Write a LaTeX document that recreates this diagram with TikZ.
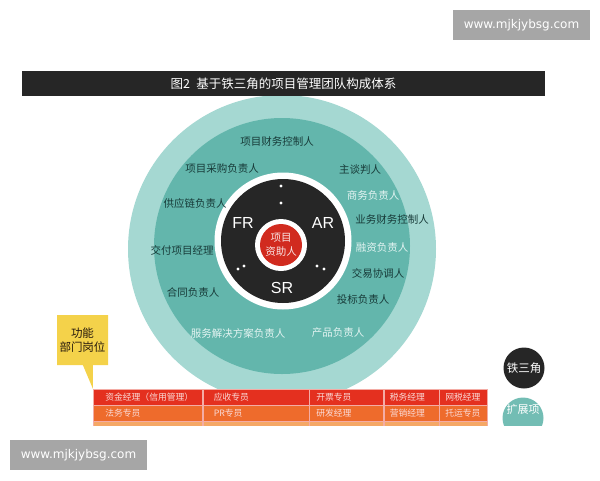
\documentclass[tikz,border=0pt]{standalone}
\usepackage{fontspec}
\setmainfont{Noto Sans CJK SC}
\newfontfamily\latinfont{Liberation Sans}
\newfontfamily\wmfont{DejaVu Sans}
\usetikzlibrary{positioning,shapes.callouts}

\definecolor{paleteal}{HTML}{A5D8D2}
\definecolor{ringteal}{HTML}{63B6AC}
\definecolor{darkteal}{HTML}{173A38}
\definecolor{lightteal}{HTML}{E2F3F1}
\definecolor{coal}{HTML}{262626}
\definecolor{sponsorred}{HTML}{D12B1F}
\definecolor{rowred}{HTML}{E4301F}
\definecolor{roworange}{HTML}{EE6B2C}
\definecolor{rowpeach}{HTML}{F5A866}
\definecolor{callyellow}{HTML}{F4D24A}
\definecolor{wmgray}{HTML}{A6A6A6}

\begin{document}
\begin{tikzpicture}[x=1pt,y=-1pt,
	disc/.style={
	  circle,
	  inner sep=0pt
	},
	role/.style={
	  font=\fontsize{10.5}{12}\selectfont,
	  text=darkteal,
	  inner sep=1pt
	},
	rolelight/.style={
	  role,
	  text=lightteal
	},
	corner/.style={
	  font=\latinfont\fontsize{16}{18}\selectfont,
	  text=white,
	  inner sep=0pt
	},
	cell/.style={
	  minimum height=15.5pt,
	  inner xsep=6pt,
	  inner ysep=0pt,
	  draw=white!60!rowred,
	  line width=0.5pt,
	  align=left,
	  font=\fontsize{8.8}{10}\selectfont,
	  text=white!82!rowred
	},
	wmbox/.style={
	  fill=wmgray,
	  minimum width=137pt,
	  minimum height=30pt,
	  text=white,
	  font=\wmfont\fontsize{12}{14}\selectfont
	},
	node distance=0pt
]
\useasboundingbox (0,0) rectangle (600,480);

% circles
\node[disc,fill=paleteal,minimum size=308pt] (outer) at (282,249) {};
\node[disc,fill=ringteal,minimum size=256pt] (ring) at (282,246) {};
\node[disc,fill=white,minimum size=137pt] (hubrim) at (283,241) {};
\node[disc,fill=coal,minimum size=124pt] (hub) at (283,241) {};
\node[disc,fill=white,minimum size=52pt] (sponsorrim) at (281,245) {};
\node[disc,fill=sponsorred,minimum size=42pt,align=center,
  text=white!88!sponsorred,font=\fontsize{10.5}{14}\selectfont]
  (sponsor) at (281,245) {项目\\资助人};

% iron triangle
\node[corner] (fr) at (243,223) {FR};
\node[corner] (ar) at (323,223) {AR};
\node[corner] (sr) at (282,288) {SR};
\foreach \p in {(281,186),(281,203),(238,269),(244,266),(317,266),(324,269)}
  \fill[white] \p circle (1.6pt);

% roles
\node[role] (finctrl) at (277,141) {项目财务控制人};
\node[role] (purchase) at (222,169) {项目采购负责人};
\node[role] (negot) at (360,170) {主谈判人};
\node[rolelight] (business) at (373,195) {商务负责人};
\node[role] (supply) at (195,203) {供应链负责人};
\node[role] (bizfin) at (392,219) {业务财务控制人};
\node[role] (delivery) at (182,250) {交付项目经理};
\node[rolelight] (funding) at (382,248) {融资负责人};
\node[role] (deal) at (378,273) {交易协调人};
\node[role] (contract) at (193,292) {合同负责人};
\node[role] (bid) at (363,300) {投标负责人};
\node[rolelight] (solution) at (238,333) {服务解决方案负责人};
\node[rolelight] (product) at (338,333) {产品负责人};

% title
\node[fill=coal,minimum width=523pt,minimum height=25pt,text=white,
  font=\fontsize{12.5}{14}\selectfont] (title) at (283.5,83.5)
  {图2\enspace 基于铁三角的项目管理团队构成体系};

\begin{scope}
\clip (0,0) rectangle (600,425);

% function posts
\node[cell,fill=rowred,inner xsep=12pt,text width=85pt,anchor=west] (r1c1) at (93,397) {资金经理（信用管理）};
\node[cell,fill=rowred,inner xsep=11pt,text width=84pt,right=of r1c1] (r1c2) {应收专员};
\node[cell,fill=rowred,inner xsep=7pt,text width=60pt,right=of r1c2] (r1c3) {开票专员};
\node[cell,fill=rowred,text width=43pt,right=of r1c3] (r1c4) {税务经理};
\node[cell,fill=rowred,text width=36pt,right=of r1c4] (r1c5) {网税经理};

\node[cell,fill=roworange,inner xsep=12pt,text width=85pt,below=of r1c1] (r2c1) {法务专员};
\node[cell,fill=roworange,inner xsep=11pt,text width=84pt,right=of r2c1] (r2c2) {PR专员};
\node[cell,fill=roworange,inner xsep=7pt,text width=60pt,right=of r2c2] (r2c3) {研发经理};
\node[cell,fill=roworange,text width=43pt,right=of r2c3] (r2c4) {营销经理};
\node[cell,fill=roworange,text width=36pt,right=of r2c4] (r2c5) {托运专员};

\node[cell,fill=rowpeach,inner xsep=12pt,text width=85pt,below=of r2c1] (r3c1) {};
\node[cell,fill=rowpeach,inner xsep=11pt,text width=84pt,right=of r3c1] (r3c2) {};
\node[cell,fill=rowpeach,inner xsep=7pt,text width=60pt,right=of r3c2] (r3c3) {};
\node[cell,fill=rowpeach,text width=43pt,right=of r3c3] (r3c4) {};
\node[cell,fill=rowpeach,text width=36pt,right=of r3c4] (r3c5) {};

% legend
\node[disc,fill=coal,minimum size=41pt,text=white,
  font=\fontsize{11.5}{13}\selectfont] (iron) at (524,368) {铁三角};
\node[disc,fill=ringteal!90!white,minimum size=41pt] (extend) at (523,418) {};
\node[text=white,font=\fontsize{11}{13}\selectfont,inner sep=0pt]
  (extendtxt) at (523,409) {扩展项};
\end{scope}

% callout
\node[rectangle callout,fill=callyellow,minimum width=51pt,minimum height=50pt,
  inner sep=2pt,align=center,text=black!80!brown,font=\fontsize{11.5}{14}\selectfont,
  callout absolute pointer={(r1c1.north west)},callout pointer width=10pt]
  (func) at (82.5,340) {功能\\部门岗位};

% watermarks
\node[wmbox] (wmtop) at (521.5,25) {www.mjkjybsg.com};
\node[wmbox] (wmbot) at (78.5,455) {www.mjkjybsg.com};

\end{tikzpicture}
\end{document}
